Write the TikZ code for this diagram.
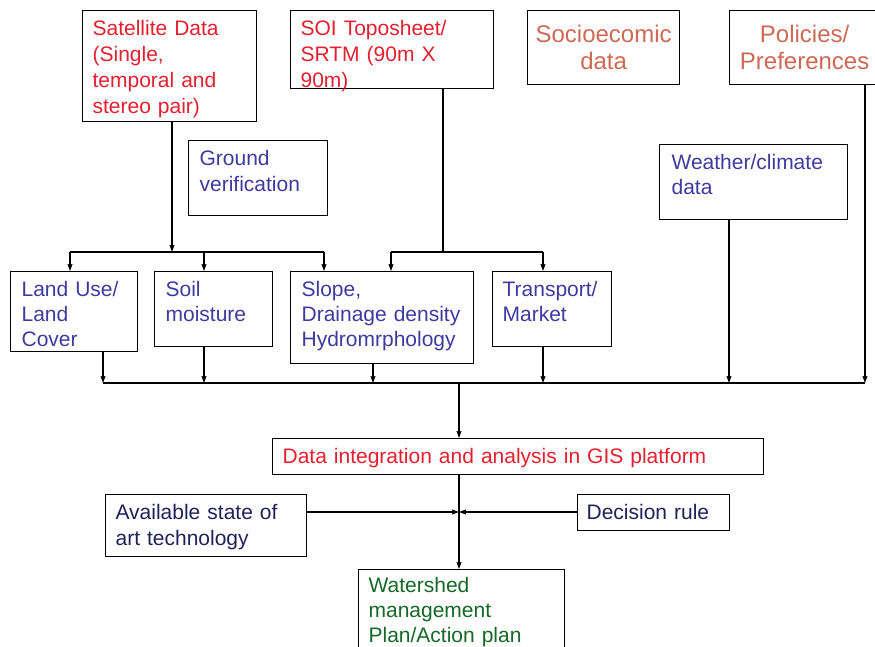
\documentclass[tikz,border=0pt]{standalone}
\usepackage{fontspec}
\setmainfont{Liberation Sans}
\usetikzlibrary{positioning, arrows.meta, calc}
\hyphenpenalty=10000
\exhyphenpenalty=10000

\definecolor{srcred}{RGB}{228,32,48}
\definecolor{socred}{RGB}{205,105,85}
\definecolor{layerblue}{RGB}{62,58,158}
\definecolor{ruleblue}{RGB}{30,34,88}
\definecolor{plangreen}{RGB}{22,104,40}

\begin{document}
\begin{tikzpicture}[
    x=1pt, y=-1pt,
    >={Stealth[length=7pt, width=5pt, inset=1pt]},
    % Styles
    box/.style={draw=black, rectangle, anchor=north west, align=left, inner ysep=0pt, line width=1.2pt, font=\fontsize{21}{26}\selectfont},
    layer/.style={box, text=layerblue, font=\fontsize{21}{25}\selectfont},
    link/.style={line width=1.2pt, draw=black}
    ]
    \useasboundingbox (0,0) rectangle (875,647);

    % 1. Input data sources
    \node (sat) [box, text=srcred, text width=154pt, inner xsep=10pt, text height=25pt, text depth=86pt] at (82,10) {Satellite Data\\(Single,\\temporal and\\stereo pair)};
    \node (soi) [box, text=srcred, text width=183pt, inner xsep=10pt, text height=25pt, text depth=53pt] at (290,10) {SOI Toposheet/\\SRTM (90m X\\90m)};
    \node (socio) [box, text=socred, align=center, text width=140pt, inner xsep=6pt, text height=32pt, text depth=42pt, font=\fontsize{24}{27}\selectfont] at (527,10) {Socioecomic\\data};
    \node (policy) [box, text=socred, align=center, text width=138pt, inner xsep=6pt, text height=32pt, text depth=42pt, font=\fontsize{24}{27}\selectfont] at (729,10) {Policies/\\Preferences};

    % 2. Supporting data
    \node (ground) [layer, font=\fontsize{21}{26}\selectfont, text width=117pt, inner xsep=11pt, text height=25pt, text depth=50pt] at (188,140) {Ground\\verification};
    \node (weather) [layer, font=\fontsize{21}{25}\selectfont, text width=164pt, inner xsep=12pt, text height=25pt, text depth=50pt] at (659,144) {Weather/climate\\data};

    % 3. Thematic layers
    \node (landuse) [layer, text width=105pt, inner xsep=11pt, text height=25pt, text depth=55pt] at (10,271) {Land Use/\\Land\\Cover};
    \node (soil) [layer, text width=96pt, inner xsep=11pt, text height=25pt, text depth=50pt] at (154,271) {Soil\\moisture};
    \node (slope) [layer, text width=161pt, inner xsep=11pt, text height=25pt, text depth=67pt] at (290,271) {Slope,\\Drainage density\\Hydromrphology};
    \node (transport) [layer, text width=99pt, inner xsep=10pt, text height=25pt, text depth=50pt] at (492,271) {Transport/\\Market};

    % 4. Integration
    \node (gis) [box, text=srcred, text width=471pt, inner xsep=10pt, text height=25pt, text depth=11pt] at (272,438) {Data integration and analysis in GIS platform};
    \node (tech) [box, text=ruleblue, text width=181pt, inner xsep=10pt, text height=25pt, text depth=37pt] at (105,494) {Available state of\\art technology};
    \node (rule) [box, text=ruleblue, text width=134pt, inner xsep=9pt, text height=25pt, text depth=11pt] at (577,494) {Decision rule};

    % 5. Output
    \node (plan) [box, text=plangreen, font=\fontsize{21}{25}\selectfont, text width=186pt, inner xsep=10pt, text height=23pt, text depth=91pt] at (358,569) {Watershed\\management\\Plan/Action plan};

    % Junction points
    \coordinate (splitL) at (172,252);
    \coordinate (splitR) at (443,252);
    \coordinate (dL1) at (70,252);
    \coordinate (dL2) at (204,252);
    \coordinate (dL3) at (324,252);
    \coordinate (dR1) at (391,252);
    \coordinate (dR2) at (543,252);
    \coordinate (bus1) at (103,383);
    \coordinate (bus2) at (204,383);
    \coordinate (bus3) at (373,383);
    \coordinate (bus4) at (543,383);
    \coordinate (bus5) at (729,383);
    \coordinate (bus6) at (865,383);
    \coordinate (trunk) at (459,383);
    \coordinate (merge) at (459,512);

    % Connections / Arrows
    \draw[->, link] (splitL |- sat.south) -- (splitL);
    \draw[link] (dL1) -- (dL3);
    \foreach \d/\n in {dL1/landuse, dL2/soil, dL3/slope}
        \draw[->, link] (\d) -- (\d |- \n.north);
    \draw[link] (splitR |- soi.south) -- (splitR);
    \draw[link] (dR1) -- (dR2);
    \draw[->, link] (dR1) -- (dR1 |- slope.north);
    \draw[->, link] (dR2) -- (dR2 |- transport.north);

    \draw[link] (bus1) -- (bus6);
    \foreach \b/\n in {bus1/landuse, bus2/soil, bus3/slope, bus4/transport, bus5/weather, bus6/policy}
        \draw[->, link] (\b |- \n.south) -- (\b);
    \draw[->, link] (trunk) -- (trunk |- gis.north);
    \draw[->, link] (merge |- gis.south) -- (merge |- plan.north);
    \draw[->, link] (tech.east |- merge) -- (merge);
    \draw[->, link] (rule.west |- merge) -- (merge);
\end{tikzpicture}
\end{document}
